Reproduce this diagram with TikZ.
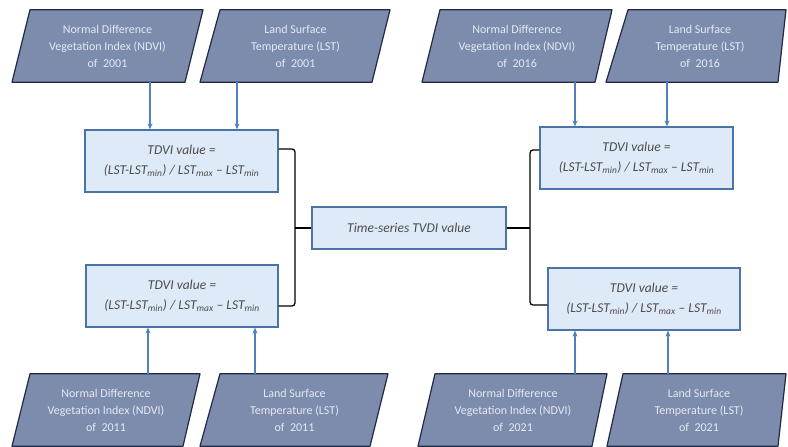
\documentclass[tikz,border=0pt]{standalone}
\usepackage{fontspec}
\setmainfont{Carlito}
\usetikzlibrary{calc,arrows.meta}
\definecolor{pfill}{HTML}{7D8CAD}
\definecolor{pline}{HTML}{1F2A44}
\definecolor{ptext}{HTML}{E4E9F3}
\definecolor{bfill}{HTML}{DFEAF8}
\definecolor{bline}{HTML}{4A74A8}
\definecolor{arrc}{HTML}{4F81BD}
\tikzset{
  ptxt/.style={align=center, text=ptext, font=\fontsize{12}{17}\selectfont, minimum height=72pt, inner sep=0pt},
  pshape/.style={draw=pline, fill=pfill, line width=1.2pt, line join=round},
  calcbox/.style={draw=bline, fill=bfill, line width=1.2pt, align=center, minimum width=193pt, minimum height=62pt, inner sep=0pt, font=\fontsize{13.5}{20}\selectfont\itshape, text=black!70},
  arr/.style={draw=arrc, line width=1.1pt, -{Stealth[length=6pt,width=5pt]}},
  br/.style={draw=black, line width=1.3pt, rounded corners=3pt}
}
\begin{document}
\begin{tikzpicture}[x=1pt,y=-1pt]
\useasboundingbox (0,0) rectangle (788,447);
\fill[white] (0,0) rectangle (788,447);

% parallelogram text nodes (positions)
\path node[ptxt, minimum width=173pt] (p1) at (107.5,46) {};
\path node[ptxt, minimum width=171pt] (p2) at (295.5,46) {};
\path node[ptxt, minimum width=172pt] (p3) at (517,46) {};
\path node[ptxt, minimum width=168pt] (p4) at (700,46) {};
\path node[ptxt, minimum width=170pt] (p5) at (106,410) {};
\path node[ptxt, minimum width=169pt] (p6) at (294.5,410) {};
\path node[ptxt, minimum width=173pt] (p7) at (513,410) {};
\path node[ptxt, minimum width=167pt] (p8) at (699,410) {};

\draw[pshape] ($(p1.north)+(-77.5,0)$) -- ($(p1.north)+(95.5,0)$) -- ($(p1.south)+(77.5,0)$) -- ($(p1.south)+(-95.5,0)$) -- cycle;
\draw[pshape] ($(p2.north)+(-75.5,0)$) -- ($(p2.north)+(94.5,0)$) -- ($(p2.south)+(76.5,0)$) -- ($(p2.south)+(-95.5,0)$) -- cycle;
\draw[pshape] ($(p3.north)+(-77,0)$) -- ($(p3.north)+(95,0)$) -- ($(p3.south)+(78,0)$) -- ($(p3.south)+(-95,0)$) -- cycle;
\draw[pshape] ($(p4.north)+(-72,0)$) -- ($(p4.north)+(86,0)$) -- ($(p4.south)+(78,0)$) -- ($(p4.south)+(-94,0)$) -- cycle;
\draw[pshape] ($(p5.north)+(-76,0)$) -- ($(p5.north)+(94,0)$) -- ($(p5.south)+(77,0)$) -- ($(p5.south)+(-94,0)$) -- cycle;
\draw[pshape] ($(p6.north)+(-74.5,0)$) -- ($(p6.north)+(93.5,0)$) -- ($(p6.south)+(75.5,0)$) -- ($(p6.south)+(-94.5,0)$) -- cycle;
\draw[pshape] ($(p7.north)+(-78,0)$) -- ($(p7.north)+(94,0)$) -- ($(p7.south)+(79,0)$) -- ($(p7.south)+(-95,0)$) -- cycle;
\draw[pshape] ($(p8.north)+(-76,0)$) -- ($(p8.north)+(87,0)$) -- ($(p8.south)+(79,0)$) -- ($(p8.south)+(-92,0)$) -- cycle;

\node[ptxt] at (p1) {Normal Difference\\Vegetation Index (NDVI)\\of\ \ 2001};
\node[ptxt] at (p2) {Land Surface\\Temperature (LST)\\of\ \ 2001};
\node[ptxt] at (p3) {Normal Difference\\Vegetation Index (NDVI)\\of\ \ 2016};
\node[ptxt] at (p4) {Land Surface\\Temperature (LST)\\of\ \ 2016};
\node[ptxt] at (p5) {Normal Difference\\Vegetation Index (NDVI)\\of\ \ 2011};
\node[ptxt] at (p6) {Land Surface\\Temperature (LST)\\of\ \ 2011};
\node[ptxt] at (p7) {Normal Difference\\Vegetation Index (NDVI)\\of\ \ 2021};
\node[ptxt] at (p8) {Land Surface\\Temperature (LST)\\of\ \ 2021};

% calculation boxes
\node[calcbox] (b1) at (181.5,161) {TDVI value =\\(LST-LST$_{\mathit{min}}$) / LST$_{\mathit{max}}$ -- LST$_{\mathit{min}}$};
\node[calcbox, minimum width=192pt] (b2) at (182,296) {TDVI value =\\(LST-LST$_{\mathit{min}}$) / LST$_{\mathit{max}}$ -- LST$_{\mathit{min}}$};
\node[calcbox] (b3) at (636.5,158) {TDVI value =\\(LST-LST$_{\mathit{min}}$) / LST$_{\mathit{max}}$ -- LST$_{\mathit{min}}$};
\node[calcbox, minimum width=192pt] (b4) at (644,299) {TDVI value =\\(LST-LST$_{\mathit{min}}$) / LST$_{\mathit{max}}$ -- LST$_{\mathit{min}}$};
\node[calcbox, minimum width=194pt, minimum height=42pt] (c) at (409,228) {Time-series TVDI value};

% arrows
\draw[arr] ([xshift=42.5pt]p1.south) -- ([xshift=42.5pt]p1.south |- b1.north);
\draw[arr] ([xshift=-58.5pt]p2.south) -- ([xshift=-58.5pt]p2.south |- b1.north);
\draw[arr] ([xshift=58pt]p3.south) -- ([xshift=58pt]p3.south |- b3.north);
\draw[arr] ([xshift=-33pt]p4.south) -- ([xshift=-33pt]p4.south |- b3.north);
\draw[arr] ([xshift=42pt]p5.north) -- ([xshift=42pt]p5.north |- b2.south);
\draw[arr] ([xshift=-39.5pt]p6.north) -- ([xshift=-39.5pt]p6.north |- b2.south);
\draw[arr] ([xshift=62pt]p7.north) -- ([xshift=62pt]p7.north |- b4.south);
\draw[arr] ([xshift=-31pt]p8.north) -- ([xshift=-31pt]p8.north |- b4.south);

% brackets
\coordinate (jl) at (295,228);
\coordinate (jr) at (530,228);
\draw[br] ([yshift=12pt]b1.east) -| (jl) |- ([yshift=-10pt]b2.east);
\draw[br] (jl) -- (c.west);
\draw[br] ([yshift=8pt]b3.west) -| (jr) |- ([yshift=-6pt]b4.west);
\draw[br] (c.east) -- (jr);
\end{tikzpicture}
\end{document}
